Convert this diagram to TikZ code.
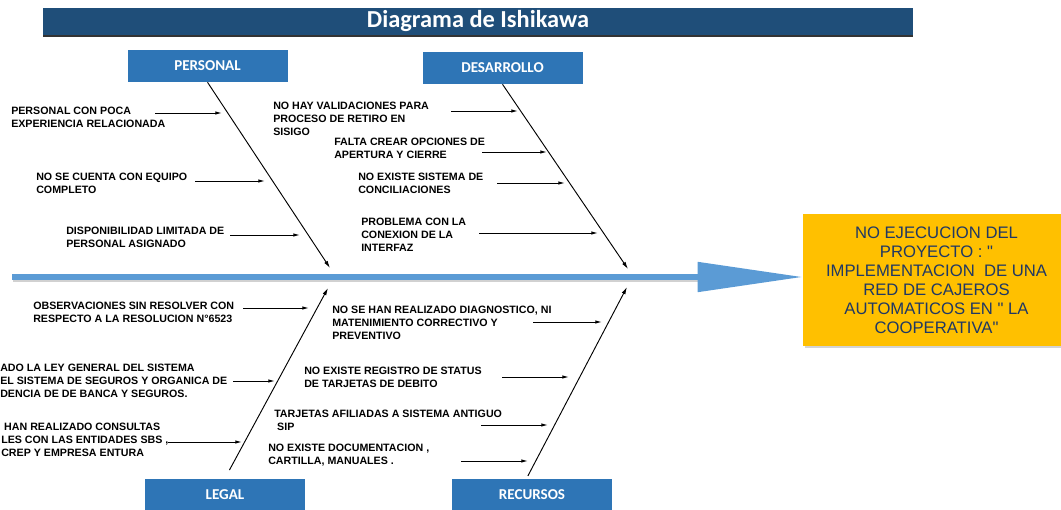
\documentclass[tikz,border=0pt]{standalone}
\usepackage{fontspec}
\setmainfont{Liberation Sans}[Ligatures=TeXOff]
\newfontfamily\calfont{Carlito}
\usetikzlibrary{arrows.meta,shadows}
\definecolor{titleblue}{RGB}{31,78,121}
\definecolor{catblue}{RGB}{46,117,182}
\definecolor{spineblue}{RGB}{91,155,213}
\definecolor{effectyellow}{RGB}{255,192,0}
\definecolor{effecttext}{RGB}{32,56,100}

\begin{document}
\begin{tikzpicture}[x=0.75pt,y=0.75pt,yscale=-1,xscale=1,
    catbox/.style={fill=catblue, text=white, minimum width=120pt, minimum height=24pt, inner sep=0pt, font=\calfont\bfseries\fontsize{11.3}{13}\selectfont},
    cause/.style={anchor=north west, inner sep=0.75pt, align=left, font=\bfseries\fontsize{8}{9.75}\selectfont},
    causearrow/.style={-{Latex[length=5pt,width=2.6pt]}, line width=0.7pt},
    bone/.style={-{Latex[length=5.5pt,width=3pt]}, line width=0.7pt},
    spine/.style={-{Triangle[length=79pt,width=21.5pt]}, line width=4.5pt, spineblue}]
        \useasboundingbox (0,0) rectangle (1061,510);

        %Title bar
        \node (titulo) [fill=titleblue, text=white, minimum width=652.5pt, minimum height=20.5pt, inner sep=0pt,
            drop shadow={shadow xshift=0pt, shadow yshift=-1.2pt, opacity=0.8, fill=black},
            font=\calfont\bfseries\fontsize{18.3}{20}\selectfont] at (478,21.5) {Diagrama de Ishikawa};

        %Effect box
        \node (efecto) [fill=effectyellow, text=effecttext, minimum width=200pt, minimum height=99pt, inner sep=0pt, align=center,
            drop shadow={shadow xshift=1.5pt, shadow yshift=-1.5pt, opacity=0.35},
            font=\fontsize{12.5}{14.3}\selectfont] at (936.5,280)
            {NO EJECUCION DEL\\PROYECTO : "\\IMPLEMENTACION\ \ DE UNA\\RED DE CAJEROS\\AUTOMATICOS EN " LA\\COOPERATIVA"};

        %Category boxes
        \node (personal) [catbox] at (207.5,66) {PERSONAL};
        \node (desarrollo) [catbox] at (502.5,68) {DESARROLLO};
        \node (legal) [catbox] at (225,494.5) {LEGAL};
        \node (recursos) [catbox] at (532,494.5) {RECURSOS};

        %Spine
        \coordinate (cola) at (12,277);
        \draw [line width=4.5pt, black!30, opacity=0.6] ([shift={(1,2)}]cola) -- (700,279);
        \draw [spine] (cola) -- (efecto.west |- cola);

        %Bones
        \coordinate (pe) at (330,268);
        \coordinate (de) at (628,269);
        \coordinate (le) at (328,288);
        \coordinate (re) at (627,287);
        \draw [bone] (personal.south) -- (pe);
        \draw [bone] (desarrollo.south) -- (de);
        \draw [bone, shorten <=7pt] (legal.north) -- (le);
        \draw [bone, shorten <=2pt] ([xshift=-4pt]recursos.north) -- (re);

        % Text Node
        \node (p1) [cause] at (10,106) {PERSONAL CON POCA\\EXPERIENCIA RELACIONADA};
        \node (p2) [cause] at (35,172) {NO SE CUENTA CON EQUIPO\\COMPLETO};
        \node (p3) [cause] at (65,226) {DISPONIBILIDAD LIMITADA DE\\PERSONAL ASIGNADO};
        % Text Node
        \node (d1) [cause] at (272,101) {NO HAY VALIDACIONES PARA\\PROCESO DE RETIRO EN\\SISIGO};
        \node (d2) [cause] at (333,137) {FALTA CREAR OPCIONES DE\\APERTURA Y CIERRE};
        \node (d3) [cause] at (357,172) {NO EXISTE SISTEMA DE\\CONCILIACIONES};
        \node (d4) [cause] at (360,217) {PROBLEMA CON LA\\CONEXION DE LA\\INTERFAZ};
        % Text Node
        \node (l1) [cause] at (32,301) {OBSERVACIONES SIN RESOLVER CON\\RESPECTO A LA RESOLUCION N°6523};
        \node (l2) [cause, inner sep=0pt] at (0,364) {ADO LA LEY GENERAL DEL SISTEMA\\EL SISTEMA DE SEGUROS Y ORGANICA DE\\DENCIA DE DE BANCA Y SEGUROS.};
        \node (l3) [cause, inner sep=0pt] at (1,423) {\ HAN REALIZADO CONSULTAS\\LES CON LAS ENTIDADES SBS ,\\CREP Y EMPRESA ENTURA};
        % Text Node
        \node (r1) [cause] at (331,305) {NO SE HAN REALIZADO DIAGNOSTICO, NI\\MATENIMIENTO CORRECTIVO Y\\PREVENTIVO};
        \node (r2) [cause] at (303,366) {NO EXISTE REGISTRO DE STATUS\\DE TARJETAS DE DEBITO};
        \node (r3) [cause] at (273,409) {TARJETAS AFILIADAS A SISTEMA ANTIGUO\\\ SIP};
        \node (r4) [cause] at (267,443) {NO EXISTE DOCUMENTACION ,\\CARTILLA, MANUALES .};

        %Cause arrows
        \foreach \c/\xa/\xb/\y in {p1/155/222/113, p2/195/265/181, p3/230/300/235,
                                    d1/451/518/111, d2/482/547/152, d3/497/565/183, d4/479/598/233,
                                    l1/243/309/308, l2/233/275/381, l3/168/242/442,
                                    r1/533/602/322, r2/502/569/377, r3/481/548/425, r4/461/528/461} {
            \coordinate (\c a) at (\xa,\y);
            \coordinate (\c b) at (\xb,\y);
            \draw [causearrow] (\c a) -- (\c b);
        }

\end{tikzpicture}
\end{document}
